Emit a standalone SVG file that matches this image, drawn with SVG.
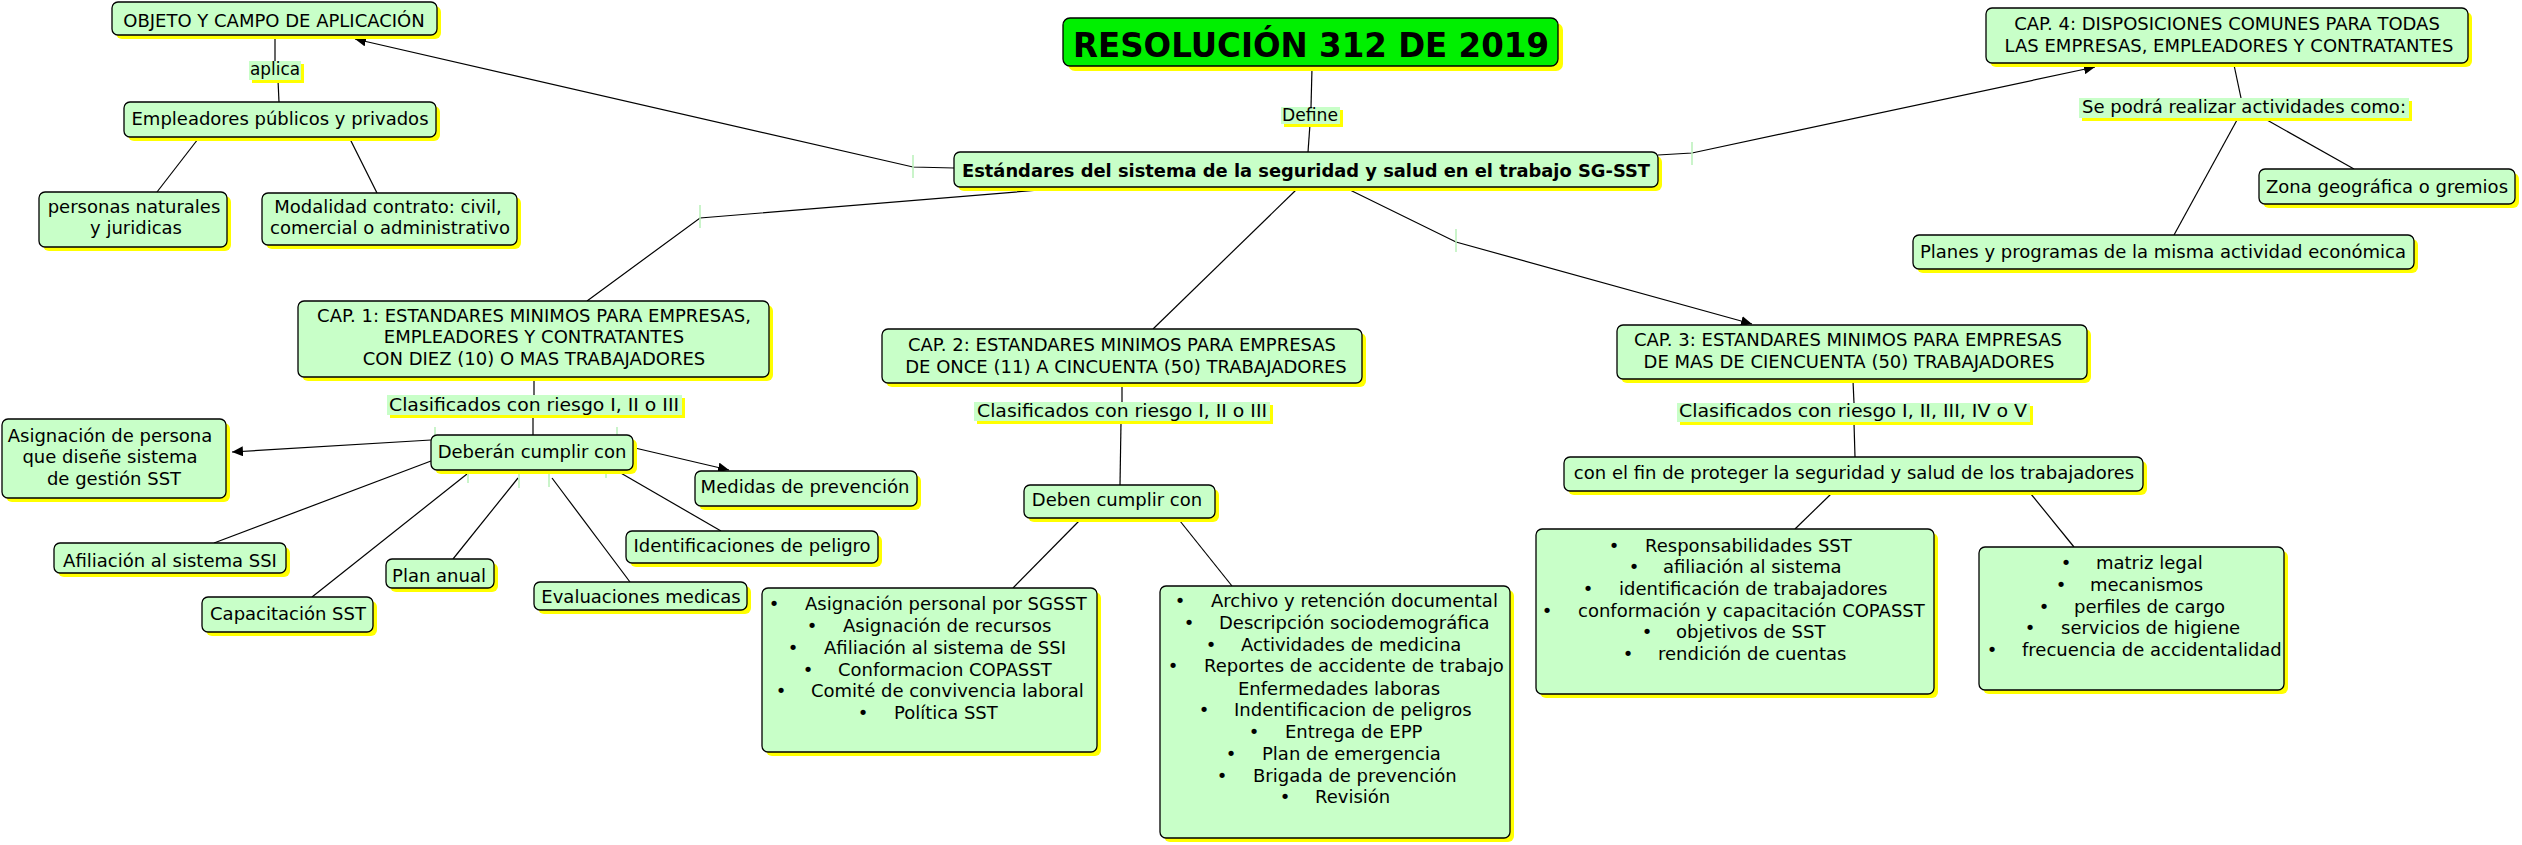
<svg xmlns="http://www.w3.org/2000/svg" width="2522" height="845" viewBox="0 0 2522 845">
<defs>
<marker id="ah" markerUnits="userSpaceOnUse" markerWidth="12" markerHeight="10" refX="11" refY="5" orient="auto">
<path d="M0,0 L11,5 L0,10 z" fill="#000"/>
</marker>
<style>
.n{fill:#c8ffc8;stroke:#000;stroke-width:1.3}
.g{fill:#00f000;stroke:#000;stroke-width:1.3}
.s{fill:#ffff00}
.lb{fill:#c8ffc8}
.t{font-family:"DejaVu Sans",Verdana,sans-serif;font-size:18px;fill:#000;text-anchor:middle}
.ts{font-family:"DejaVu Sans",Verdana,sans-serif;font-size:18px;fill:#000;text-anchor:start}
.bold{font-weight:bold}
.c{stroke:#000;stroke-width:1.2;fill:none}
.k{stroke:#b8f0b8;stroke-width:1.5;fill:none}
</style>
</defs>
<rect width="2522" height="845" fill="#fff"/>

<g id="connectors">
<polyline class="c" points="275,36 275,61"/>
<polyline class="c" points="278,80 279,102"/>
<polyline class="c" points="198,139 157,192"/>
<polyline class="c" points="350,139 377,193"/>
<polyline class="c" points="1312,68 1311,107"/>
<polyline class="c" points="1310,124 1308,152"/>
<polyline class="c" points="954,168 913,167 355,39" marker-end="url(#ah)"/>
<polyline class="c" points="1658,155 1692,153 2095,67" marker-end="url(#ah)"/>
<polyline class="c" points="2234,65 2241,98"/>
<polyline class="c" points="2237,120 2174,235"/>
<polyline class="c" points="2267,120 2354,169"/>
<polyline class="c" points="1040,190 700,218 587,301"/>
<polyline class="c" points="1296,190 1153,329"/>
<polyline class="c" points="1350,190 1456,242 1752,324" marker-end="url(#ah)"/>
<polyline class="c" points="534,379 534,395"/>
<polyline class="c" points="533,416 533,435"/>
<polyline class="c" points="431,440 232,452" marker-end="url(#ah)"/>
<polyline class="c" points="635,448 729,470" marker-end="url(#ah)"/>
<polyline class="c" points="431,461 214,543"/>
<polyline class="c" points="467,474 312,597"/>
<polyline class="c" points="518,478 453,559"/>
<polyline class="c" points="552,478 630,582"/>
<polyline class="c" points="619,472 721,531"/>
<polyline class="c" points="1122,385 1122,402"/>
<polyline class="c" points="1121,422 1120,485"/>
<polyline class="c" points="1079,521 1013,588"/>
<polyline class="c" points="1180,521 1232,586"/>
<polyline class="c" points="1853,381 1854,403"/>
<polyline class="c" points="1854,423 1855,457"/>
<polyline class="c" points="1831,494 1795,529"/>
<polyline class="c" points="2031,494 2074,547"/>
<line class="k" x1="913" y1="155" x2="913" y2="178"/>
<line class="k" x1="1692" y1="142" x2="1692" y2="165"/>
<line class="k" x1="700" y1="205" x2="700" y2="228"/>
<line class="k" x1="1456" y1="229" x2="1456" y2="252"/>
<line class="k" x1="435" y1="427" x2="435" y2="437"/>
<line class="k" x1="617" y1="427" x2="617" y2="437"/>
<line class="k" x1="468" y1="472" x2="468" y2="483"/>
<line class="k" x1="519" y1="472" x2="519" y2="488"/>
<line class="k" x1="549" y1="472" x2="549" y2="487"/>
<line class="k" x1="606" y1="472" x2="606" y2="478"/>
</g>

<g id="label-aplica">
<rect class="s" x="252" y="64" width="52" height="19"/>
<rect class="lb" x="249" y="61" width="52" height="19"/>
<text class="t" x="275" y="75" textLength="50" lengthAdjust="spacingAndGlyphs">aplica</text>
</g>
<g id="label-define">
<rect class="s" x="1284" y="110" width="59" height="17"/>
<rect class="lb" x="1281" y="107" width="59" height="17"/>
<text class="t" x="1310" y="121" textLength="56" lengthAdjust="spacingAndGlyphs">Define</text>
</g>
<g id="label-sepodra">
<rect class="s" x="2082" y="101" width="330" height="20"/>
<rect class="lb" x="2079" y="98" width="330" height="20"/>
<text class="t" x="2244" y="113" textLength="324" lengthAdjust="spacingAndGlyphs">Se podrá realizar actividades como:</text>
</g>
<g id="label-clas1">
<rect class="s" x="390" y="398" width="295" height="20"/>
<rect class="lb" x="387" y="395" width="295" height="20"/>
<text class="t" x="534" y="411" textLength="290" lengthAdjust="spacingAndGlyphs">Clasificados con riesgo I, II o III</text>
</g>
<g id="label-clas2">
<rect class="s" x="977" y="405" width="296" height="19"/>
<rect class="lb" x="974" y="402" width="296" height="19"/>
<text class="t" x="1122" y="417" textLength="290" lengthAdjust="spacingAndGlyphs">Clasificados con riesgo I, II o III</text>
</g>
<g id="label-clas3">
<rect class="s" x="1680" y="406" width="353" height="19"/>
<rect class="lb" x="1677" y="403" width="353" height="19"/>
<text class="t" x="1853" y="417" textLength="348" lengthAdjust="spacingAndGlyphs">Clasificados con riesgo I, II, III, IV o V</text>
</g>

<g id="n-objeto">
<rect class="s" x="116" y="6" width="325" height="33" rx="6"/>
<rect class="n" x="112" y="2" width="325" height="33" rx="6"/>
<text class="t" x="274" y="27">OBJETO Y CAMPO DE APLICACIÓN</text>
</g>
<g id="n-empleadores">
<rect class="s" x="128" y="106" width="312" height="35" rx="6"/>
<rect class="n" x="124" y="102" width="312" height="35" rx="6"/>
<text class="t" x="280" y="125">Empleadores públicos y privados</text>
</g>
<g id="n-personas">
<rect class="s" x="43" y="196" width="188" height="55" rx="6"/>
<rect class="n" x="39" y="192" width="188" height="55" rx="6"/>
<text class="t" x="134" y="213">personas naturales</text>
<text class="t" x="136" y="234">y juridicas</text>
</g>
<g id="n-modalidad">
<rect class="s" x="266" y="197" width="255" height="52" rx="6"/>
<rect class="n" x="262" y="193" width="255" height="52" rx="6"/>
<text class="t" x="388" y="213">Modalidad contrato: civil,</text>
<text class="t" x="390" y="234">comercial o administrativo</text>
</g>
<g id="n-resolucion">
<rect class="s" x="1068" y="23" width="495" height="48" rx="7"/>
<rect class="g" x="1063" y="18" width="495" height="48" rx="7"/>
<text class="t bold" x="1311" y="57" style="font-size:34px" textLength="476" lengthAdjust="spacingAndGlyphs">RESOLUCIÓN 312 DE 2019</text>
</g>
<g id="n-main">
<rect class="s" x="958" y="156" width="704" height="35" rx="6"/>
<rect class="n" x="954" y="152" width="704" height="35" rx="6"/>
<text class="t bold" x="1306" y="177" style="font-size:18px" textLength="688" lengthAdjust="spacingAndGlyphs">Estándares del sistema de la seguridad y salud en el trabajo SG-SST</text>
</g>
<g id="n-cap4">
<rect class="s" x="1990" y="12" width="482" height="55" rx="6"/>
<rect class="n" x="1986" y="8" width="482" height="55" rx="6"/>
<text class="t" x="2227" y="30">CAP. 4: DISPOSICIONES COMUNES PARA TODAS</text>
<text class="t" x="2229" y="52">LAS EMPRESAS, EMPLEADORES Y CONTRATANTES</text>
</g>
<g id="n-zona">
<rect class="s" x="2263" y="173" width="256" height="35" rx="6"/>
<rect class="n" x="2259" y="169" width="256" height="35" rx="6"/>
<text class="t" x="2387" y="193">Zona geográfica o gremios</text>
</g>
<g id="n-planes">
<rect class="s" x="1917" y="239" width="501" height="34" rx="6"/>
<rect class="n" x="1913" y="235" width="501" height="34" rx="6"/>
<text class="t" x="2163" y="258">Planes y programas de la misma actividad económica</text>
</g>
<g id="n-cap1">
<rect class="s" x="302" y="305" width="471" height="76" rx="6"/>
<rect class="n" x="298" y="301" width="471" height="76" rx="6"/>
<text class="t" x="534" y="322">CAP. 1: ESTANDARES MINIMOS PARA EMPRESAS,</text>
<text class="t" x="534" y="343">EMPLEADORES Y CONTRATANTES</text>
<text class="t" x="534" y="365">CON DIEZ (10) O MAS TRABAJADORES</text>
</g>
<g id="n-deberan">
<rect class="s" x="435" y="439" width="202" height="35" rx="6"/>
<rect class="n" x="431" y="435" width="202" height="35" rx="6"/>
<text class="t" x="532" y="458">Deberán cumplir con</text>
</g>
<g id="n-asignacion">
<rect class="s" x="6" y="423" width="224" height="79" rx="6"/>
<rect class="n" x="2" y="419" width="224" height="79" rx="6"/>
<text class="t" x="110" y="442">Asignación de persona</text>
<text class="t" x="110" y="463">que diseñe sistema</text>
<text class="t" x="114" y="485">de gestión SST</text>
</g>
<g id="n-medidas">
<rect class="s" x="699" y="475" width="222" height="35" rx="6"/>
<rect class="n" x="695" y="471" width="222" height="35" rx="6"/>
<text class="t" x="805" y="493">Medidas de prevención</text>
</g>
<g id="n-identificaciones">
<rect class="s" x="630" y="535" width="252" height="32" rx="6"/>
<rect class="n" x="626" y="531" width="252" height="32" rx="6"/>
<text class="t" x="752" y="552">Identificaciones de peligro</text>
</g>
<g id="n-evaluaciones">
<rect class="s" x="538" y="586" width="213" height="28" rx="6"/>
<rect class="n" x="534" y="582" width="213" height="28" rx="6"/>
<text class="t" x="641" y="603">Evaluaciones medicas</text>
</g>
<g id="n-plan">
<rect class="s" x="390" y="563" width="108" height="29" rx="6"/>
<rect class="n" x="386" y="559" width="108" height="29" rx="6"/>
<text class="t" x="439" y="582">Plan anual</text>
</g>
<g id="n-capacitacion">
<rect class="s" x="206" y="601" width="171" height="35" rx="6"/>
<rect class="n" x="202" y="597" width="171" height="35" rx="6"/>
<text class="t" x="288" y="620">Capacitación SST</text>
</g>
<g id="n-afiliacion">
<rect class="s" x="58" y="547" width="232" height="30" rx="6"/>
<rect class="n" x="54" y="543" width="232" height="30" rx="6"/>
<text class="t" x="170" y="567">Afiliación al sistema SSI</text>
</g>
<g id="n-cap2">
<rect class="s" x="886" y="333" width="480" height="54" rx="6"/>
<rect class="n" x="882" y="329" width="480" height="54" rx="6"/>
<text class="t" x="1122" y="351">CAP. 2: ESTANDARES MINIMOS PARA EMPRESAS</text>
<text class="t" x="1126" y="373">DE ONCE (11) A CINCUENTA (50) TRABAJADORES</text>
</g>
<g id="n-deben">
<rect class="s" x="1028" y="489" width="191" height="33" rx="6"/>
<rect class="n" x="1024" y="485" width="191" height="33" rx="6"/>
<text class="t" x="1117" y="506">Deben cumplir con</text>
</g>
<g id="n-cap2-lista1">
<rect class="s" x="766" y="592" width="335" height="164" rx="6"/>
<rect class="n" x="762" y="588" width="335" height="164" rx="6"/>
<text class="t" x="774" y="610">•</text><text class="ts" x="805" y="610">Asignación personal por SGSST</text>
<text class="t" x="812" y="632">•</text><text class="ts" x="843" y="632">Asignación de recursos</text>
<text class="t" x="793" y="654">•</text><text class="ts" x="824" y="654">Afiliación al sistema de SSI</text>
<text class="t" x="808" y="676">•</text><text class="ts" x="838" y="676">Conformacion COPASST</text>
<text class="t" x="781" y="697">•</text><text class="ts" x="811" y="697">Comité de convivencia laboral</text>
<text class="t" x="863" y="719">•</text><text class="ts" x="894" y="719">Política SST</text>
</g>
<g id="n-cap2-lista2">
<rect class="s" x="1164" y="590" width="350" height="252" rx="6"/>
<rect class="n" x="1160" y="586" width="350" height="252" rx="6"/>
<text class="t" x="1180" y="607">•</text><text class="ts" x="1211" y="607">Archivo y retención documental</text>
<text class="t" x="1189" y="629">•</text><text class="ts" x="1219" y="629">Descripción sociodemográfica</text>
<text class="t" x="1211" y="651">•</text><text class="ts" x="1241" y="651">Actividades de medicina</text>
<text class="t" x="1173" y="672">•</text><text class="ts" x="1204" y="672">Reportes de accidente de trabajo</text>
<text class="ts" x="1238" y="695">Enfermedades laboras</text>
<text class="t" x="1204" y="716">•</text><text class="ts" x="1234" y="716">Indentificacion de peligros</text>
<text class="t" x="1254" y="738">•</text><text class="ts" x="1285" y="738">Entrega de EPP</text>
<text class="t" x="1231" y="760">•</text><text class="ts" x="1262" y="760">Plan de emergencia</text>
<text class="t" x="1222" y="782">•</text><text class="ts" x="1253" y="782">Brigada de prevención</text>
<text class="t" x="1285" y="803">•</text><text class="ts" x="1315" y="803">Revisión</text>
</g>
<g id="n-cap3">
<rect class="s" x="1621" y="329" width="470" height="54" rx="6"/>
<rect class="n" x="1617" y="325" width="470" height="54" rx="6"/>
<text class="t" x="1848" y="346">CAP. 3: ESTANDARES MINIMOS PARA EMPRESAS</text>
<text class="t" x="1849" y="368">DE MAS DE CIENCUENTA (50) TRABAJADORES</text>
</g>
<g id="n-confin">
<rect class="s" x="1568" y="461" width="579" height="34" rx="6"/>
<rect class="n" x="1564" y="457" width="579" height="34" rx="6"/>
<text class="t" x="1854" y="479">con el fin de proteger la seguridad y salud de los trabajadores</text>
</g>
<g id="n-cap3-lista1">
<rect class="s" x="1540" y="533" width="398" height="165" rx="6"/>
<rect class="n" x="1536" y="529" width="398" height="165" rx="6"/>
<text class="t" x="1614" y="552">•</text><text class="ts" x="1645" y="552">Responsabilidades SST</text>
<text class="t" x="1634" y="573">•</text><text class="ts" x="1663" y="573">afiliación al sistema</text>
<text class="t" x="1588" y="595">•</text><text class="ts" x="1619" y="595">identificación de trabajadores</text>
<text class="t" x="1547" y="617">•</text><text class="ts" x="1578" y="617">conformación y capacitación COPASST</text>
<text class="t" x="1647" y="638">•</text><text class="ts" x="1676" y="638">objetivos de SST</text>
<text class="t" x="1628" y="660">•</text><text class="ts" x="1658" y="660">rendición de cuentas</text>
</g>
<g id="n-cap3-lista2">
<rect class="s" x="1983" y="551" width="305" height="143" rx="6"/>
<rect class="n" x="1979" y="547" width="305" height="143" rx="6"/>
<text class="t" x="2066" y="569">•</text><text class="ts" x="2096" y="569">matriz legal</text>
<text class="t" x="2061" y="591">•</text><text class="ts" x="2090" y="591">mecanismos</text>
<text class="t" x="2044" y="613">•</text><text class="ts" x="2074" y="613">perfiles de cargo</text>
<text class="t" x="2030" y="634">•</text><text class="ts" x="2061" y="634">servicios de higiene</text>
<text class="t" x="1992" y="656">•</text><text class="ts" x="2022" y="656">frecuencia de accidentalidad</text>
</g>
</svg>
